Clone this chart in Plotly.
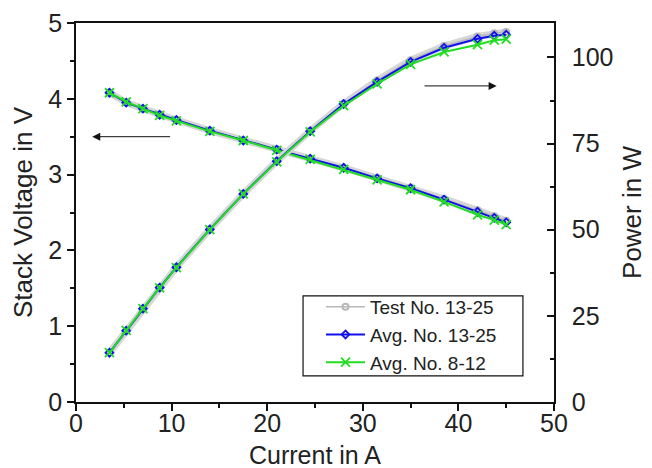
import plotly.graph_objects as go

current = [3.5, 5.25, 7.0, 8.75, 10.5, 14.0, 17.5, 21.0, 24.5, 28.0, 31.5, 35.0, 38.5, 42.0, 43.75, 45.0]

volt_test = [4.08, 3.95, 3.87, 3.79, 3.72, 3.58, 3.45, 3.33, 3.21, 3.09, 2.96, 2.83, 2.68, 2.53, 2.45, 2.39]
volt_avg13 = [4.08, 3.95, 3.87, 3.79, 3.72, 3.58, 3.45, 3.33, 3.21, 3.09, 2.95, 2.82, 2.67, 2.51, 2.43, 2.37]
volt_avg8 = [4.08, 3.96, 3.87, 3.78, 3.71, 3.57, 3.45, 3.32, 3.20, 3.07, 2.93, 2.80, 2.64, 2.47, 2.40, 2.34]

pow_test = [14.3, 20.7, 27.1, 33.2, 39.1, 50.1, 60.4, 69.9, 78.7, 86.6, 93.3, 99.2, 103.3, 106.1, 107.0, 107.4]
pow_avg13 = [14.3, 20.7, 27.1, 33.2, 39.1, 50.1, 60.4, 69.9, 78.6, 86.5, 92.9, 98.7, 102.8, 105.4, 106.3, 106.6]
pow_avg8 = [14.3, 20.8, 27.1, 33.1, 39.0, 50.0, 60.4, 69.7, 78.4, 86.0, 92.3, 98.0, 101.6, 103.7, 105.0, 105.3]

names = ["Test No. 13-25", "Avg. No. 13-25", "Avg. No. 8-12"]

GRAY = "#b8b8b8"
BLUE = "#1010ee"
GREEN = "#22dd22"

fig = go.Figure()

# grey band (spread of individual tests)
for y, ax in [(volt_test, "y"), (pow_test, "y2")]:
    fig.add_trace(go.Scatter(x=current, y=y, yaxis=ax, mode="lines",
                             line=dict(color="#d6d6d6", width=7),
                             showlegend=False, hoverinfo="skip"))

for i, (y, ax) in enumerate([(volt_test, "y"), (pow_test, "y2")]):
    fig.add_trace(go.Scatter(x=current, y=y, yaxis=ax, mode="lines+markers",
                             name=names[0], legendgroup="g0", showlegend=(i == 0),
                             line=dict(color=GRAY, width=1.5),
                             marker=dict(symbol="circle-open", size=6, color=GRAY,
                                         line=dict(width=2, color=GRAY))))

for i, (y, ax) in enumerate([(volt_avg13, "y"), (pow_avg13, "y2")]):
    fig.add_trace(go.Scatter(x=current, y=y, yaxis=ax, mode="lines+markers",
                             name=names[1], legendgroup="g1", showlegend=(i == 0),
                             line=dict(color=BLUE, width=2),
                             marker=dict(symbol="diamond-open", size=6, color=BLUE,
                                         line=dict(width=1.8, color=BLUE))))

for i, (y, ax) in enumerate([(volt_avg8, "y"), (pow_avg8, "y2")]):
    fig.add_trace(go.Scatter(x=current, y=y, yaxis=ax, mode="lines+markers",
                             name=names[2], legendgroup="g2", showlegend=(i == 0),
                             line=dict(color=GREEN, width=2),
                             marker=dict(symbol="x-thin-open", size=9, color=GREEN,
                                         line=dict(width=1.8, color=GREEN))))

# arrows indicating which axis each curve belongs to
fig.add_annotation(x=1.7, y=3.5, ax=10.0, ay=3.5, xref="x", yref="y", axref="x", ayref="y",
                   showarrow=True, arrowhead=2, arrowsize=1.6, arrowwidth=1, arrowcolor="#111", text="")
fig.add_annotation(x=44.0, y=4.17, ax=36.3, ay=4.17, xref="x", yref="y", axref="x", ayref="y",
                   showarrow=True, arrowhead=2, arrowsize=1.6, arrowwidth=1, arrowcolor="#111", text="")

# x-axis title placed as annotation (tighter than the axis title allows)
fig.add_annotation(text="Current in A", xref="paper", yref="paper", x=0.5, y=0,
                   yanchor="middle", yshift=-53, showarrow=False,
                   font=dict(size=25, color="#222"))

# legend frame
fig.add_shape(type="rect", xref="paper", yref="paper", x0=0.475, x1=0.935, y0=0.069, y1=0.28,
              line=dict(color="#111", width=1.2), fillcolor="white", layer="above")

font_main = "Liberation Sans, Arial, sans-serif"

# page body has an 8px margin; the figure is sized to fit the 652x468 window
fig.update_layout(
    width=644, height=460,
    margin=dict(l=68, r=98, t=15, b=66, autoexpand=False),
    paper_bgcolor="white", plot_bgcolor="white",
    font=dict(family=font_main, size=25, color="#222"),
    showlegend=True,
    legend=dict(x=0.5126, y=0.301, xanchor="left", yanchor="top",
                bgcolor="rgba(0,0,0,0)", borderwidth=0,
                font=dict(size=19, color="#222"), tracegroupgap=0,
                itemwidth=39),
    xaxis=dict(range=[0, 50], dtick=10, ticks="outside", ticklen=7, tickwidth=1.5,
               showline=True, linecolor="#111", linewidth=1.5, mirror=True,
               showgrid=False, zeroline=False, automargin=False,
               ticklabelstandoff=-9,
               minor=dict(dtick=5, ticks="outside", ticklen=4, tickwidth=1.5, tickcolor="#111"),
               tickcolor="#111"),
    yaxis=dict(range=[0, 5], dtick=1, ticks="outside", ticklen=7, tickwidth=1.5,
               showline=True, linecolor="#111", linewidth=1.5,
               showgrid=False, zeroline=False, automargin=False,
               minor=dict(dtick=0.5, ticks="outside", ticklen=4, tickwidth=1.5, tickcolor="#111"),
               tickcolor="#111",
               title=dict(text="Stack Voltage in V", standoff=12, font=dict(size=26))),
    yaxis2=dict(range=[0, 110], tickvals=[0, 25, 50, 75, 100], overlaying="y", side="right",
                ticks="inside", ticklen=7, tickwidth=1.5,
                showline=True, linecolor="#111", linewidth=1.5,
                showgrid=False, zeroline=False, automargin=False,
                ticklabelstandoff=11,
                minor=dict(tickvals=[12.5, 37.5, 62.5, 87.5], ticks="inside", ticklen=4,
                           tickwidth=1.5, tickcolor="#111"),
                tickcolor="#111",
                title=dict(text="Power in W", standoff=10, font=dict(size=26))),
)

fig.write_html("out.html")
